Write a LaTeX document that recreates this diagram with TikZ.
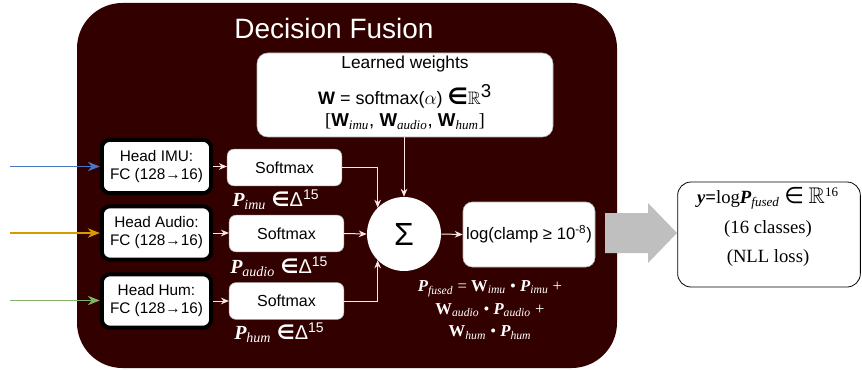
\documentclass[tikz,border=0pt]{standalone}
\usepackage{fontspec}
\usepackage{amssymb}
\setmainfont{Liberation Sans}
\newfontfamily\serifF{Liberation Serif}
\newfontfamily\djv{DejaVu Sans}
\usetikzlibrary{arrows.meta,calc}
\definecolor{darkbg}{RGB}{51,0,0}
\definecolor{inblue}{RGB}{74,118,196}
\definecolor{inorange}{RGB}{215,155,0}
\definecolor{ingreen}{RGB}{130,179,102}
\definecolor{arrgray}{RGB}{191,191,191}
\newcommand{\myP}[1]{{\serifF\bfseries\itshape P}\textsubscript{\serifF\itshape #1}}
\newcommand{\myW}[1]{{\serifF\bfseries W}\textsubscript{\serifF\itshape #1}}
\newcommand{\myWs}[1]{{\bfseries W}\textsubscript{\serifF\itshape #1}}
\newcommand{\inDelta}{{\djv\bfseries ∈}Δ\textsuperscript{15}}
\tikzset{
  headbox/.style={draw=black, line width=3pt, fill=white, rounded corners=6pt,
    minimum width=82pt, minimum height=40pt, inner sep=0pt, align=center,
    font=\fontsize{11.5}{13.5}\selectfont},
  smbox/.style={draw=gray!60, line width=0.4pt, fill=white, rounded corners=5pt,
    minimum width=86pt, minimum height=27.5pt, inner sep=0pt,
    font=\fontsize{12}{14}\selectfont},
  wline/.style={draw=white!90!red, line width=0.75pt, -{Stealth[length=6pt,width=5pt]}},
  inarrow/.style={line width=1.3pt, -{Stealth[length=9pt,width=7pt]}},
  lbl/.style={text=white, inner sep=0pt},
}
\begin{document}
\begin{tikzpicture}[x=0.75pt,y=-0.75pt]
\useasboundingbox (0,0) rectangle (862,370);
% main dark panel
\fill[darkbg, rounded corners=34pt] (77,3) rectangle (617,368);
\node[lbl, font=\fontsize{21}{24}\selectfont] (title) at (334,28) {Decision Fusion};

% learned weights
\node[fill=white, draw=gray!60, line width=0.4pt, rounded corners=8pt, minimum width=222pt, minimum height=63pt, inner sep=0pt] (lw) at (405,95) {};
\node[inner sep=0pt, font=\fontsize{13}{15}\selectfont] (lw1) at (405,64) {Learned weights};
\node[inner sep=0pt, font=\fontsize{13.5}{16}\selectfont] (lw2) at (405,96) {\textbf{W} = softmax($\alpha$) {\djv\bfseries\fontsize{17}{18}\selectfont ∈}$\mathbb{R}$\textsuperscript{\fontsize{14}{14}\selectfont 3}};
\node[inner sep=0pt, font=\fontsize{14}{16}\selectfont] (lw3) at (405,122) {{\serifF[}\myWs{imu}, \myWs{audio}, \myWs{hum}{\serifF]}};

% heads
\node[headbox] (h1) at (156.5,166.5) {Head IMU:\\FC (128→16)};
\node[headbox] (h2) at (156.5,233) {Head Audio:\\FC (128→16)};
\node[headbox] (h3) at (156.5,301) {Head Hum:\\FC (128→16)};

\coordinate (i1) at (10,166.5);
\coordinate (i2) at (10,233);
\coordinate (i3) at (10,300.5);
\draw[inarrow, inblue] (i1) -- (h1.west);
\draw[inarrow, inorange] (i2) -- (h2.west);
\draw[inarrow, ingreen] (i3) -- (h3.west |- i3);

% softmax
\node[smbox] (s1) at (284.5,167.5) {Softmax};
\node[smbox] (s2) at (286.5,233.5) {Softmax};
\node[smbox] (s3) at (286.5,301) {Softmax};
\draw[wline] (h1.east) -- (s1.west |- h1.east);
\draw[wline] (h2.east) -- (s2.west |- h2.east);
\draw[wline] (h3.east) -- (s3.west |- h3.east);

% P labels
\node[lbl, anchor=west, font=\fontsize{15}{16}\selectfont] (p1) at (232,200) {\myP{imu} \inDelta};
\node[lbl, anchor=west, font=\fontsize{15}{16}\selectfont] (p2) at (230,267) {\myP{audio} \inDelta};
\node[lbl, anchor=west, font=\fontsize{15}{16}\selectfont] (p3) at (234,333) {\myP{hum} \inDelta};

% sigma
\node[circle, fill=white, minimum size=55.5pt, inner sep=0pt, font=\fontsize{24}{26}\selectfont] (sig) at (404,234) {Σ};
\draw[wline] (lw.south -| sig.north) -- (sig.north);
\draw[wline] (s1.east) -| (sig.north west);
\draw[wline] (s2.east) -- (sig.west);
\draw[wline] (s3.east) -| (sig.south west);

% log clamp
\node[fill=white, draw=gray!60, line width=0.4pt, rounded corners=7pt, minimum width=99pt, minimum height=48.75pt, inner sep=0pt, font=\fontsize{12.5}{14}\selectfont] (log) at (529,234.5) {log(clamp ≥ 10\textsuperscript{-8})};
\draw[wline] (sig.east) -- (log.west);

% formula
\node[lbl, align=center, font=\serifF\fontsize{12.5}{17}\selectfont] (form) at (490,310) {\myP{fused} = \myW{imu} • \myP{imu} +\\ \myW{audio} • \myP{audio} +\\ \myW{hum} • \myP{hum}};

% output
\node[draw=black, line width=0.6pt, fill=white, rounded corners=10pt, minimum width=137pt, minimum height=78.75pt, inner sep=0pt] (out) at (769,234.5) {};
\node[inner sep=0pt, font=\serifF\fontsize{14}{16}\selectfont] (o1) at (768,198) {{\bfseries\itshape y}{\bfseries =}log{\bfseries\itshape P}\textsubscript{\itshape fused} {\djv\fontsize{17}{17}\selectfont ∈} {\fontsize{17}{17}\selectfont$\mathbb{R}$}\textsuperscript{16}};
\node[inner sep=0pt, font=\serifF\fontsize{14}{16}\selectfont] (o2) at (768,229) {(16 classes)};
\node[inner sep=0pt, font=\serifF\fontsize{14}{16}\selectfont] (o3) at (768,258) {(NLL loss)};

% big gray arrow
\fill[arrgray] (605,213) -- (648,213) -- (648,203) -- (677,233) -- (648,263) -- (648,253) -- (605,253) -- cycle;
\end{tikzpicture}
\end{document}
